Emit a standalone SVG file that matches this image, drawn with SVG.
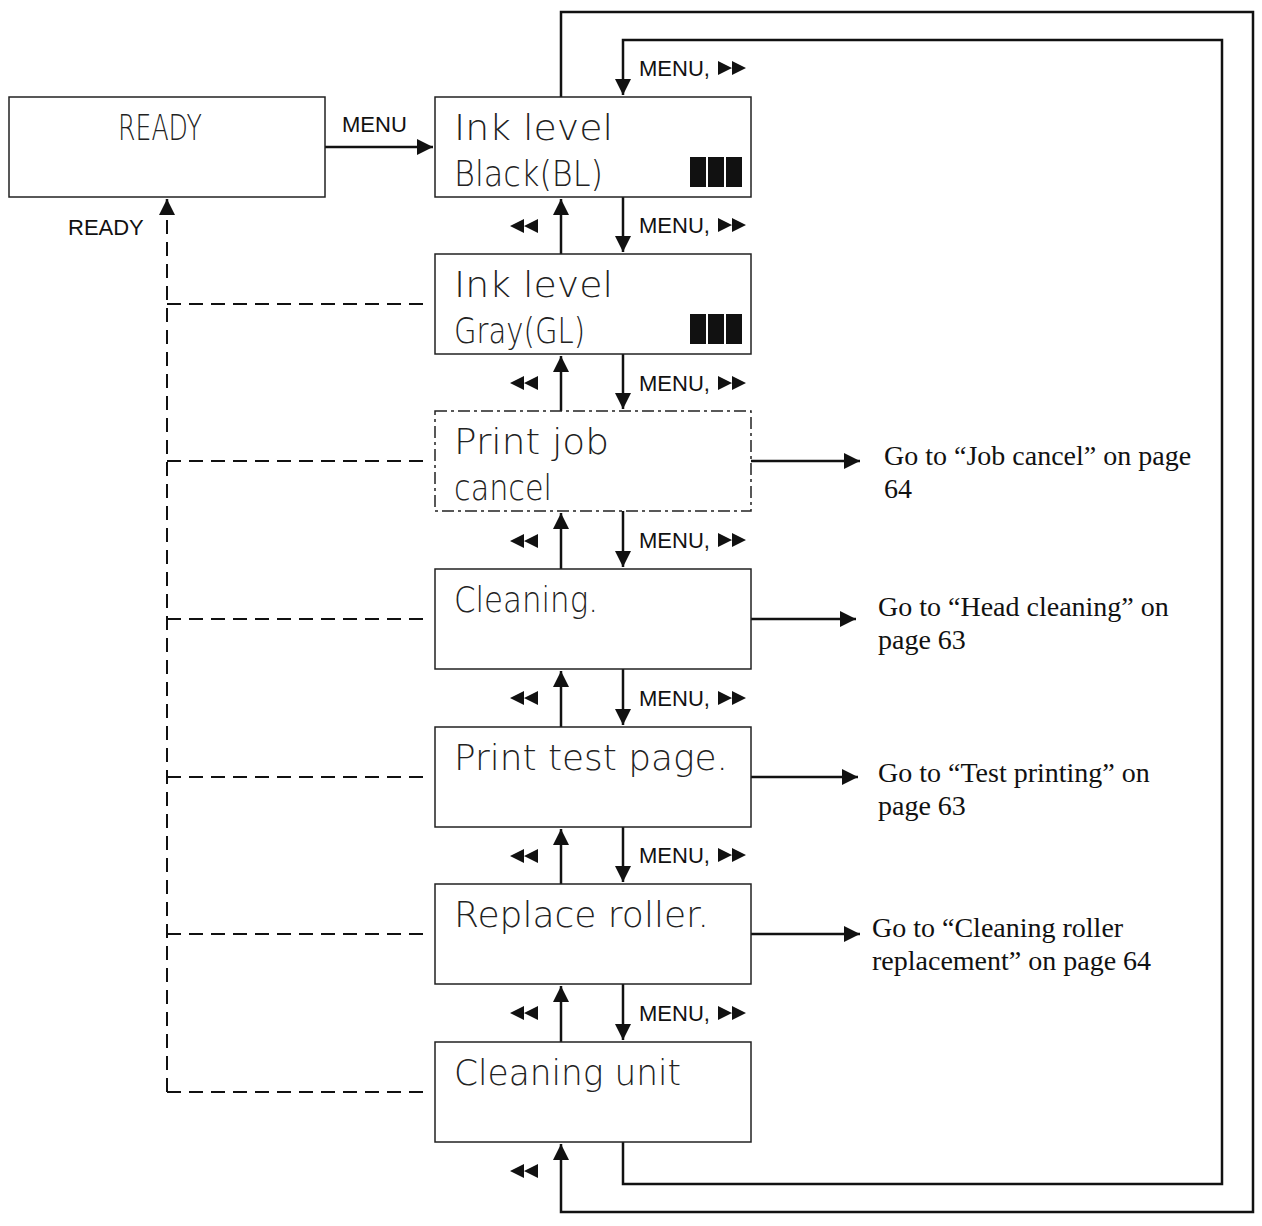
<svg xmlns="http://www.w3.org/2000/svg" width="1262" height="1226" viewBox="0 0 1262 1226">
<style>
.box{fill:#fff;stroke:#222;stroke-width:1.5}
.lcd{font-family:"DejaVu Sans","Liberation Sans",sans-serif;font-size:36px;fill:#222;font-weight:200}
.lbl{font-family:"Liberation Sans",Arial,sans-serif;font-size:22px;fill:#111}
.go{font-family:"Liberation Serif","Times New Roman",serif;font-size:28px;fill:#111}
.ln{fill:none;stroke:#111;stroke-width:2.5}
.dash{fill:none;stroke:#111;stroke-width:2;stroke-dasharray:14,8}
</style>
<defs>
<marker id="ahb" viewBox="0 0 10 10" markerWidth="16" markerHeight="16" refX="10" refY="5" orient="auto" markerUnits="userSpaceOnUse"><path d="M0,0 L10,5 L0,10Z" fill="#111"/></marker>
<g id="ff"><path d="M0,-7 L14,0 L0,7Z M14,-7 L28,0 L14,7Z" fill="#111"/></g>
<g id="rw"><path d="M28,-7 L14,0 L28,7Z M14,-7 L0,0 L14,7Z" fill="#111"/></g>
<g id="bars"><rect x="0" y="0" width="16" height="30" fill="#111"/><rect x="18" y="0" width="16" height="30" fill="#111"/><rect x="36" y="0" width="16" height="30" fill="#111"/></g>
</defs>

<g id="connectors">
<path class="ln" d="M561,97 V12 H1253 V1212 H561 V1144" marker-end="url(#ahb)"/>
<path class="ln" d="M623,1142 V1184 H1222 V40 H623 V95" marker-end="url(#ahb)"/>
<path class="ln" d="M325,147 H433" marker-end="url(#ahb)"/>
<path class="ln" d="M623,197 V252" marker-end="url(#ahb)"/>
<path class="ln" d="M623,354 V409" marker-end="url(#ahb)"/>
<path class="ln" d="M623,511 V567" marker-end="url(#ahb)"/>
<path class="ln" d="M623,669 V725" marker-end="url(#ahb)"/>
<path class="ln" d="M623,827 V882" marker-end="url(#ahb)"/>
<path class="ln" d="M623,984 V1040" marker-end="url(#ahb)"/>
<path class="ln" d="M561,254 V199" marker-end="url(#ahb)"/>
<path class="ln" d="M561,411 V356" marker-end="url(#ahb)"/>
<path class="ln" d="M561,569 V513" marker-end="url(#ahb)"/>
<path class="ln" d="M561,727 V671" marker-end="url(#ahb)"/>
<path class="ln" d="M561,884 V829" marker-end="url(#ahb)"/>
<path class="ln" d="M561,1042 V986" marker-end="url(#ahb)"/>
<path class="ln" d="M751,461 H860" marker-end="url(#ahb)"/>
<path class="ln" d="M751,619 H856" marker-end="url(#ahb)"/>
<path class="ln" d="M751,777 H858" marker-end="url(#ahb)"/>
<path class="ln" d="M751,934 H860" marker-end="url(#ahb)"/>
<path class="dash" d="M167,1092 V214"/>
<path class="ln" d="M167,214 V199" marker-end="url(#ahb)"/>
<path class="dash" d="M167,304 H425 M167,461 H425 M167,619 H425 M167,777 H425 M167,934 H425 M167,1092 H425"/>
<text class="lbl" x="342" y="132">MENU</text>
<text class="lbl" x="68" y="235">READY</text>
<text class="lbl" x="639" y="76">MENU,</text><use href="#ff" x="718" y="68"/>
<text class="lbl" x="639" y="233">MENU,</text><use href="#ff" x="718" y="225"/>
<text class="lbl" x="639" y="391">MENU,</text><use href="#ff" x="718" y="383"/>
<text class="lbl" x="639" y="548">MENU,</text><use href="#ff" x="718" y="540"/>
<text class="lbl" x="639" y="706">MENU,</text><use href="#ff" x="718" y="698"/>
<text class="lbl" x="639" y="863">MENU,</text><use href="#ff" x="718" y="855"/>
<text class="lbl" x="639" y="1021">MENU,</text><use href="#ff" x="718" y="1013"/>
<use href="#rw" x="510" y="226"/>
<use href="#rw" x="510" y="383"/>
<use href="#rw" x="510" y="541"/>
<use href="#rw" x="510" y="698"/>
<use href="#rw" x="510" y="856"/>
<use href="#rw" x="510" y="1013"/>
<use href="#rw" x="510" y="1171"/>
</g>

<g id="n-ready"><rect class="box" x="9" y="97" width="316" height="100"/><text class="lcd" x="118" y="140" textLength="84" lengthAdjust="spacingAndGlyphs">READY</text></g>
<g id="n-black"><rect class="box" x="435" y="97" width="316" height="100"/><text class="lcd" x="454" y="140" textLength="159" lengthAdjust="spacingAndGlyphs">Ink level</text><text class="lcd" x="454" y="186" textLength="149" lengthAdjust="spacingAndGlyphs">Black(BL)</text><use href="#bars" x="690" y="157"/></g>
<g id="n-gray"><rect class="box" x="435" y="254" width="316" height="100"/><text class="lcd" x="454" y="297" textLength="159" lengthAdjust="spacingAndGlyphs">Ink level</text><text class="lcd" x="454" y="343" textLength="131" lengthAdjust="spacingAndGlyphs">Gray(GL)</text><use href="#bars" x="690" y="314"/></g>
<g id="n-job"><rect class="box" x="435" y="411" width="316" height="100" style="stroke-dasharray:12,4,3,4"/><text class="lcd" x="454" y="454" textLength="155" lengthAdjust="spacingAndGlyphs">Print job</text><text class="lcd" x="454" y="500" textLength="98" lengthAdjust="spacingAndGlyphs">cancel</text></g>
<g id="n-clean"><rect class="box" x="435" y="569" width="316" height="100"/><text class="lcd" x="454" y="612" textLength="144" lengthAdjust="spacingAndGlyphs">Cleaning.</text></g>
<g id="n-test"><rect class="box" x="435" y="727" width="316" height="100"/><text class="lcd" x="454" y="770" textLength="274" lengthAdjust="spacingAndGlyphs">Print test page.</text></g>
<g id="n-roller"><rect class="box" x="435" y="884" width="316" height="100"/><text class="lcd" x="454" y="927" textLength="255" lengthAdjust="spacingAndGlyphs">Replace roller.</text></g>
<g id="n-unit"><rect class="box" x="435" y="1042" width="316" height="100"/><text class="lcd" x="454" y="1085" textLength="227" lengthAdjust="spacingAndGlyphs">Cleaning unit</text></g>

<g id="go-texts">
<text class="go" x="884" y="465">Go to “Job cancel” on page</text><text class="go" x="884" y="498">64</text>
<text class="go" x="878" y="616">Go to “Head cleaning” on</text><text class="go" x="878" y="649">page 63</text>
<text class="go" x="878" y="782">Go to “Test printing” on</text><text class="go" x="878" y="815">page 63</text>
<text class="go" x="872" y="937">Go to “Cleaning roller</text><text class="go" x="872" y="970">replacement” on page 64</text>
</g>
</svg>
